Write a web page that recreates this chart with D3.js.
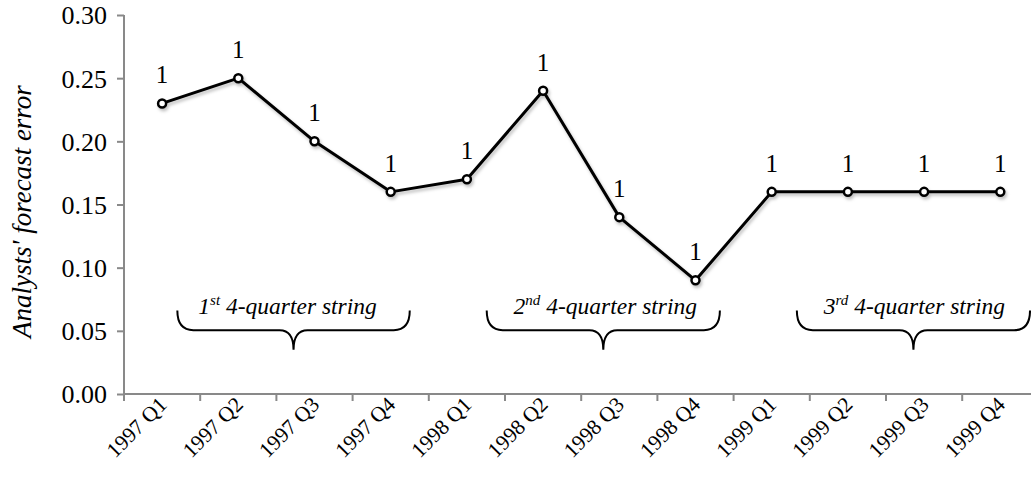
<!DOCTYPE html>
<html>
<head>
<meta charset="utf-8">
<script src="https://cdn.jsdelivr.net/npm/d3@7"></script>
<style>
  html, body { margin: 0; padding: 0; background: #fff; }
  svg { display: block; }
</style>
</head>
<body>
<svg id="chart" width="1031" height="486"></svg>
<script>
const categories = ["1997 Q1","1997 Q2","1997 Q3","1997 Q4","1998 Q1","1998 Q2","1998 Q3","1998 Q4","1999 Q1","1999 Q2","1999 Q3","1999 Q4"];
const forecastError = [0.23, 0.25, 0.20, 0.16, 0.17, 0.24, 0.14, 0.09, 0.16, 0.16, 0.16, 0.16];
const pointLabels = ["1","1","1","1","1","1","1","1","1","1","1","1"];
const yTicks = [0.00, 0.05, 0.10, 0.15, 0.20, 0.25, 0.30];
const yTitle = "Analysts' forecast error";
const stringOrdinals = ["1", "2", "3"];
const stringSuffixes = ["st", "nd", "rd"];
const stringRest = " 4-quarter string";
const stringFirst = ["1997 Q1", "1998 Q1", "1999 Q1"];
const stringLast = ["1997 Q4", "1998 Q4", "1999 Q4"];

(function () {
const FONT = '"Liberation Serif"';
const svg = d3.select("#chart");
const W = 1031;
const mLeft = 124, mTop = 15, mBottom = 394;
const step = 76.2;

const x = d3.scaleBand().domain(categories).range([mLeft, mLeft + step * categories.length]).padding(0);
const y = d3.scaleLinear().domain([0, 0.30]).range([mBottom, mTop]);
const bw = x.bandwidth();
const cx = d => x(d) + bw / 2;

const axisColor = "#898989";

const defs = svg.append("defs");
const f = defs.append("filter").attr("id", "shadow").attr("x", "-10%").attr("y", "-10%").attr("width", "120%").attr("height", "130%");
f.append("feDropShadow").attr("dx", 1.5).attr("dy", 2.5).attr("stdDeviation", 1.5).attr("flood-color", "#000").attr("flood-opacity", 0.25);

// Y axis
const yAxis = d3.axisLeft(y).tickValues(yTicks).tickFormat(d3.format(".2f")).tickSize(7).tickPadding(10);
const gy = svg.append("g").attr("transform", `translate(${mLeft},0)`).call(yAxis);
gy.select(".domain").attr("stroke", axisColor).attr("stroke-width", 2).attr("d", `M0,${mTop}V${mBottom}`);
gy.selectAll(".tick line").attr("stroke", axisColor).attr("stroke-width", 2);
gy.selectAll(".tick text").style("font-family", FONT).attr("font-size", 26).attr("fill", "#000").attr("dy", "0.34em");

// X axis
svg.append("line").attr("x1", mLeft).attr("x2", W).attr("y1", mBottom).attr("y2", mBottom)
  .attr("stroke", axisColor).attr("stroke-width", 2);
svg.append("g").selectAll("line").data(categories).join("line")
  .attr("x1", d => x(d)).attr("x2", d => x(d))
  .attr("y1", mBottom).attr("y2", mBottom + 7)
  .attr("stroke", axisColor).attr("stroke-width", 2);
svg.append("g").selectAll("text").data(categories).join("text")
  .style("font-family", FONT)
  .attr("text-anchor", "end")
  .attr("font-size", 21.5)
  .attr("transform", d => `translate(${cx(d) + 6},${mBottom + 12}) rotate(-45)`)
  .text(d => d);

// Y title
svg.append("text")
  .style("font-family", FONT)
  .attr("transform", `translate(31,${(mTop + mBottom) / 2 + 7}) rotate(-90)`)
  .attr("text-anchor", "middle")
  .attr("font-style", "italic")
  .attr("font-size", 27)
  .text(yTitle);

// Line and markers
const data = categories.map((c, i) => ({ c, v: forecastError[i], l: pointLabels[i] }));
const line = d3.line().x(d => cx(d.c)).y(d => y(d.v));
const g = svg.append("g").attr("filter", "url(#shadow)");
g.append("path").datum(data).attr("d", line).attr("fill", "none").attr("stroke", "#000").attr("stroke-width", 3).attr("stroke-linejoin", "round");
g.selectAll("circle").data(data).join("circle")
  .attr("cx", d => cx(d.c)).attr("cy", d => y(d.v)).attr("r", 4)
  .attr("fill", "#fff").attr("stroke", "#000").attr("stroke-width", 2.5);

svg.append("g").selectAll("text").data(data).join("text")
  .style("font-family", FONT)
  .attr("x", d => cx(d.c)).attr("y", d => y(d.v) - 20)
  .attr("text-anchor", "middle").attr("font-size", 25)
  .text(d => d.l);

// Braces
const braceTopV = 0.066, braceMidV = 0.0505, braceBotV = 0.035, braceTextV = 0.063;
const braceStartFrac = [0.70, 0.76, 0.83];
const braceEndFrac = [0.75, 0.82, 0.89];
const textShift = [-6, 2, 1];
stringOrdinals.forEach((ord, i) => {
  const x1 = x(stringFirst[i]) + bw * braceStartFrac[i];
  const x2 = x(stringLast[i]) + bw * braceEndFrac[i];
  const xc = (x1 + x2) / 2;
  const yt = y(braceTopV), ym = y(braceMidV), yb = y(braceBotV);
  const r = 16, rc = 14;
  const p = `M${x1},${yt} Q${x1},${ym} ${x1 + r},${ym} L${xc - rc},${ym} Q${xc},${ym} ${xc},${yb} Q${xc},${ym} ${xc + rc},${ym} L${x2 - r},${ym} Q${x2},${ym} ${x2},${yt}`;
  svg.append("path").attr("d", p).attr("fill", "none").attr("stroke", "#000").attr("stroke-width", 2);
  const t = svg.append("text").style("font-family", FONT).attr("x", xc + textShift[i]).attr("y", y(braceTextV))
    .attr("text-anchor", "middle").attr("font-style", "italic").attr("font-size", 23.5);
  t.append("tspan").text(ord);
  t.append("tspan").attr("font-size", 15).attr("dy", -9).text(stringSuffixes[i]);
  t.append("tspan").attr("dy", 9).text(stringRest);
});
})();
</script>
</body>
</html>
